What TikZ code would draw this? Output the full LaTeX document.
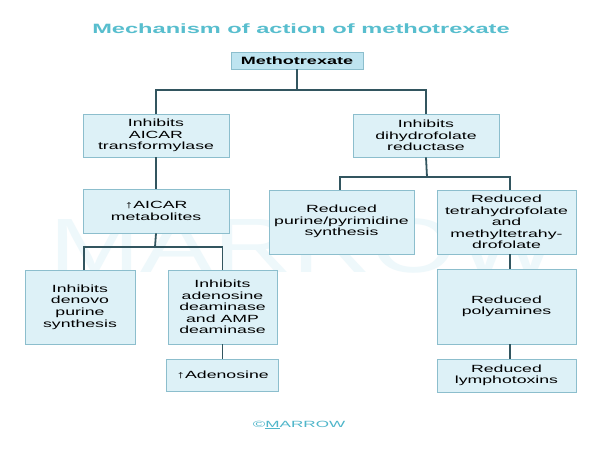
\documentclass[tikz,border=0pt]{standalone}
\usepackage{fontspec}
\setmainfont{Liberation Sans}[FakeStretch=1.7]
\newfontfamily\titlefont{Liberation Sans}[FakeStretch=1.75]
\newfontfamily\plainfont{Liberation Sans}
\definecolor{titlecol}{RGB}{88,190,206}
\definecolor{boxfill}{RGB}{221,241,247}
\definecolor{topfill}{RGB}{190,228,240}
\definecolor{boxline}{RGB}{140,190,205}
\definecolor{conncol}{RGB}{50,85,95}
\definecolor{wmcol}{RGB}{238,248,251}
\definecolor{footcol}{RGB}{80,182,202}
\tikzset{
  box/.style={rectangle, draw=boxline, fill=boxfill, line width=0.8pt, inner sep=0pt,
    align=center, font=\fontsize{10.4}{11.6}\selectfont},
  conn/.style={draw=conncol, line width=1.8pt}
}
\begin{document}
\begin{tikzpicture}[x=1pt,y=-1pt]
\useasboundingbox[fill=white] (0,0) rectangle (600,450);
% watermark
\node[text=wmcol, inner sep=0pt] (wm) at (305,246) {\scalebox{1.42}[1]{\plainfont\fontsize{77}{80}\selectfont MARROW}};
% title
\node[text=titlecol, anchor=base, inner sep=0pt, font=\titlefont\bfseries\fontsize{13.5}{15}\selectfont] (title) at (301,33) {Mechanism of action of methotrexate};
% boxes
\node[box, fill=topfill, minimum width=132pt, minimum height=17pt, font=\bfseries\fontsize{10.6}{11.6}\selectfont] (meth) at (297,60.5) {Methotrexate};
\node[box, minimum width=146pt, minimum height=43pt] (aicarT) at (156,135.5) {Inhibits\\AICAR\\transformylase};
\node[box, minimum width=146pt, minimum height=43pt] (dhfr) at (426,135.5) {Inhibits\\dihydrofolate\\reductase};
\node[box, minimum width=146pt, minimum height=44pt] (aicarM) at (156,211) {↑AICAR\\metabolites};
\node[box, minimum width=145pt, minimum height=64pt] (red1) at (341.5,222) {\raisebox{2.5pt}{\begin{tabular}{@{}c@{}}Reduced\\purine/pyrimidine\\synthesis\end{tabular}}};
\node[box, minimum width=139pt, minimum height=64pt] (red2) at (506.5,222) {Reduced\\tetrahydrofolate\\and\\methyltetrahy-\\drofolate};
\node[box, minimum width=110pt, minimum height=74pt] (denovo) at (80,307) {Inhibits\\denovo\\purine\\synthesis};
\node[box, minimum width=109pt, minimum height=74pt] (adeno) at (222.5,307) {Inhibits\\adenosine\\deaminase\\and AMP\\deaminase};
\node[box, minimum width=112pt, minimum height=32pt] (upaden) at (222.5,375) {↑Adenosine};
\node[box, minimum width=139pt, minimum height=75pt] (poly) at (506.5,306.5) {\raisebox{4pt}{\begin{tabular}{@{}c@{}}Reduced\\polyamines\end{tabular}}};
\node[box, minimum width=139pt, minimum height=33pt] (lympho) at (506.5,375.5) {Reduced\\lymphotoxins};
% footer
\node[text=footcol, inner sep=0pt] (foot) at (299,425) {\scalebox{1.9}[1]{\plainfont\fontsize{9}{10}\selectfont ©\underline{M}ARROW}};
% connectors
\coordinate (j1) at (297,90);
\coordinate (j2) at (155,247);
\coordinate (j3) at (427,177);
\draw[conn] (meth.south) -- (j1);
\draw[conn] (aicarT.north) |- (j1) -| (dhfr.north);
\draw[conn] (aicarT.south) -- (aicarM.north);
\draw[conn] (aicarM.south) -- (j2);
\draw[conn] ([xshift=4pt]denovo.north) |- (j2) -| (adeno.north);
\draw[conn] (adeno.south) -- (upaden.north);
\draw[conn] (dhfr.south) -- (j3);
\draw[conn] ([xshift=-1.5pt]red1.north) |- (j3) -| ([xshift=3.5pt]red2.north);
\draw[conn] ([xshift=3.5pt]red2.south) -- ([xshift=3.5pt]poly.north);
\draw[conn] ([xshift=3.5pt]poly.south) -- ([xshift=3.5pt]lympho.north);
\end{tikzpicture}
\end{document}
